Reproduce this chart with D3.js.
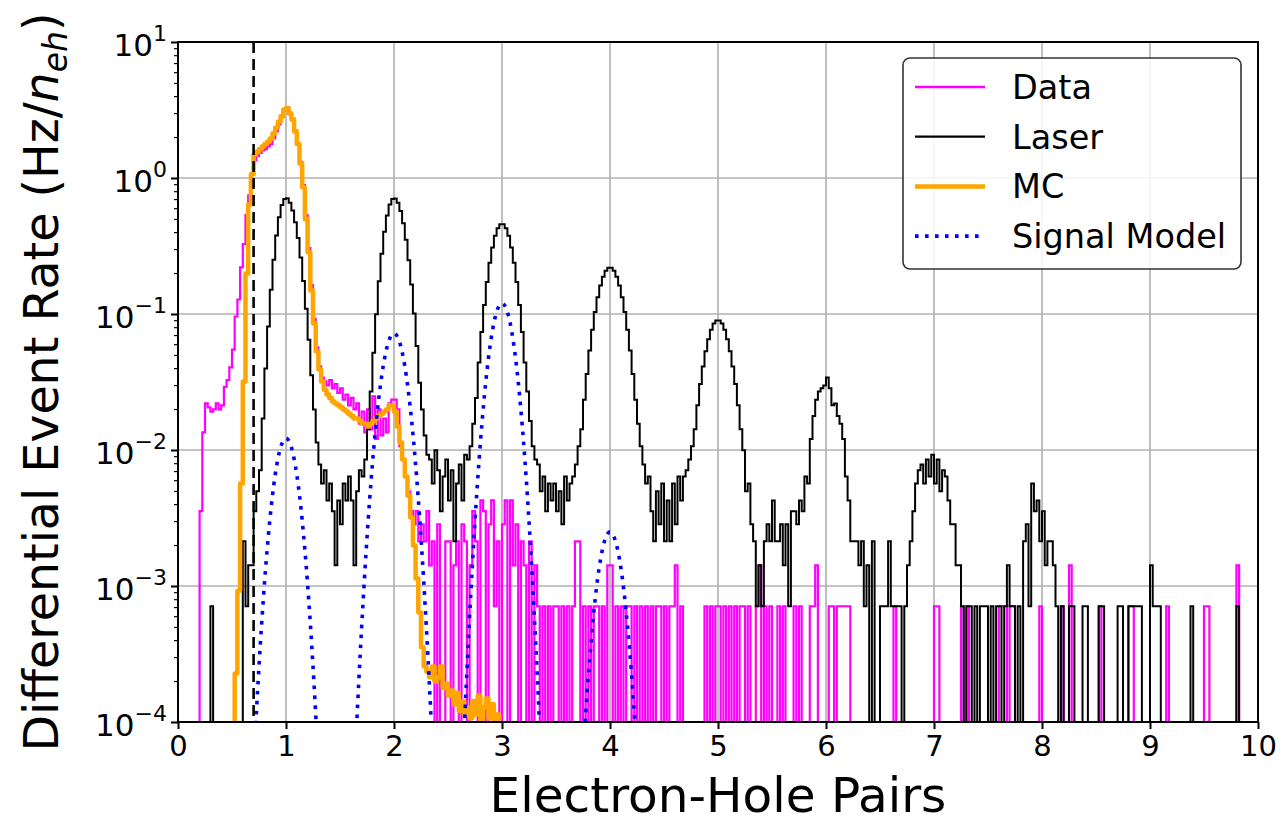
<!DOCTYPE html>
<html>
<head>
<meta charset="utf-8">
<script src="https://cdn.jsdelivr.net/npm/d3@7"></script>
<style>
  html, body { margin: 0; background: #fff; }
  svg { display: block; font-family: 'DejaVu Sans', sans-serif; }
</style>
</head>
<body>
<svg id="chart" width="1288" height="829"></svg>
<script>
// Histogram binning: 0.025 electron-hole pairs per bin, starting at 0
const binWidth = 0.025;
// One event in one bin corresponds to this differential rate (Hz / n_eh)
const hzPerCount = 7.1e-4;

// Measured data, events per bin (bins 0.000 .. 10.000, one row per unit of n_eh)
const dataCounts = [
  0,0,0,0,0,0,0,0,5,19, 31,29,27,28,31,28,30,41,46,57, 77,135,180,310,460,750,1050,1500,1900,2050, 2150,2250,2300,2400,2500,2750,3100,3500,3950,4450,
  4550,4250,3850,3150,2500,1850,1250,750,430,230, 130,80,58,48,45,42,46,40,43,37, 40,33,36,30,34,28,31,22,27,19, 28,20,35,17,28,18,24,19,31,33,
  33,28,15,12,9,7,5,4,5,3, 4,3,5,2,3,0,4,0,0,3, 3,0,2,3,0,4,3,0,2,5, 3,0,6,5,0,4,6,1,3,0,
  4,6,0,6,2,4,0,3,2,0, 3,0,2,1,0,1,0,1,0,1, 1,0,1,0,1,0,1,3,3,0, 1,0,1,0,1,1,0,1,0,2,
  2,0,1,0,1,0,1,1,0,1, 0,1,0,1,0,1,0,1,1,0, 1,0,1,1,2,0,1,0,0,0, 0,0,0,0,0,1,0,1,0,1,
  1,0,1,0,1,0,1,0,1,1, 0,1,0,0,1,2,0,1,0,1, 0,0,1,0,1,0,0,0,1,0, 1,0,0,0,1,1,2,0,0,0,
  0,1,1,0,1,1,1,1,1,0, 0,0,0,0,0,0,0,0,0,0, 0,0,0,0,0,1,0,0,0,0, 0,0,0,0,0,0,0,0,0,0,
  1,1,0,0,0,0,0,0,0,0, 1,0,1,0,0,0,0,0,0,0, 0,0,0,0,1,1,1,0,1,1, 0,0,0,0,0,0,0,0,0,1,
  0,0,0,0,0,0,0,1,0,0, 2,0,0,0,0,0,0,0,0,0, 0,1,0,0,0,0,0,0,0,0, 0,0,1,1,0,0,0,0,0,0,
  0,0,0,0,0,0,1,0,0,0, 0,0,0,0,0,0,0,0,0,0, 1,1,0,0,0,0,0,0,0,0, 0,0,2,0,0,0,0,0,0,0
];

// Laser calibration run, events per bin (same binning)
const laserCounts = [
  0,0,0,0,0,0,0,0,0,0, 0,0,1,0,0,0,0,0,0,0, 0,0,0,0,3,1,2,2,5,7, 10,24,56,114,212,353,533,725,890,987,
  1000,928,813,666,510,367,246,154,91,50, 28,16,11,8,10,6,8,5,2,6, 4,8,6,9,6,2,7,10,9,12, 20,38,73,140,245,390,566,748,900,988,
  995,925,806,654,496,350,232,142,82,44, 28,18,13,12,8,14,10,5,9,12, 6,10,3,8,11,6,13,12,15,22, 34,62,104,164,242,335,434,529,602,643,
  643,602,529,434,335,242,164,104,62,38, 23,15,12,11,7,9,5,8,6,8, 5,7,4,9,6,8,9,11,15,20, 33,51,76,108,146,187,228,265,293,308,
  308,293,265,228,187,146,108,76,51,33, 22,15,11,8,9,5,3,7,4,8, 3,6,3,8,4,9,6,9,10,12, 15,20,30,43,58,75,92,108,120,126,
  126,120,108,92,75,58,43,30,20,14, 7,8,4,3,1,2,1,3,4,3, 6,3,3,4,2,4,1,5,5,4, 6,5,9,8,17,25,33,38,40,42,
  48,40,30,31,25,22,17,9,6,3, 3,3,2,3,1,2,0,3,0,0, 1,1,1,3,1,1,1,1,0,1, 2,3,5,8,10,11,8,12,9,13,
  8,12,7,10,9,6,4,4,2,2, 1,0,1,1,0,1,0,1,1,1, 0,1,0,1,1,0,1,2,1,1, 0,1,0,3,4,1,8,5,6,3,
  5,2,3,3,2,1,0,1,0,0, 1,1,0,0,0,1,1,0,0,0, 0,1,1,0,0,0,0,0,1,1, 0,0,1,1,1,1,1,0,0,0,
  2,1,1,1,0,0,0,0,0,0, 0,0,0,0,0,1,0,0,0,0, 0,0,0,0,0,0,0,0,0,0, 0,0,1,0,0,0,0,0,0,0
];

// Monte Carlo expectation, events per bin, first bin starts at mcStart
const mcStart = 0.525;
const mcCounts = [
  0.32,1.3,8,45,280,900,1500,2100,2200,2300,2400,2500,2600,2750,3000,3300,3650,4000,4500,
  4600,4200,3800,3100,2500,1800,1200,700,400,210, 120,75,55,45,39,36,34,32,31,30, 29,28,27,26,25,24,24,23,22,22, 21,22,23,24,25,26,27,28,30,30,
  27,21,16,12,9,6.5,4.5,2.8,1.6,0.9, 0.5,0.36,0.33,0.3,0.36,0.28,0.3,0.36,0.25,0.27, 0.22,0.24,0.19,0.23,0.17,0.2,0.16,0.18,0.15,0.2, 0.16,0.22,0.14,0.18,0.21,0.15,0.19,0.13,0.16,0.12,
  0.11,0.12,0.11
];

// Signal model curve (Hz / n_eh)
const signalX = [
  0.60,0.65,0.70,0.75,0.80,0.85,0.90,0.95,1.00,1.05,1.10,1.15,1.20,1.25,1.30,1.35,1.40,1.45,1.50,1.55,
  1.60,1.65,1.70,1.75,1.80,1.85,1.90,1.95,2.00,2.05,2.10,2.15,2.20,2.25,2.30,2.35,2.40,2.45,2.50,2.55,
  2.60,2.65,2.70,2.75,2.80,2.85,2.90,2.95,3.00,3.05,3.10,3.15,3.20,3.25,3.30,3.35,3.40,3.45,3.50,3.55,
  3.60,3.65,3.70,3.75,3.80,3.85,3.90,3.95,4.00,4.05,4.10,4.15,4.20,4.25,4.30,4.35,4.40
];
const signalRate = [
  6e-7,6.4e-6,4.7e-5,2.57e-4,1.03e-3,3.04e-3,6.58e-3,1.046e-2,1.22e-2,1.046e-2,6.58e-3,3.04e-3,1.03e-3,2.57e-4,4.7e-5,6.4e-6,6e-7,5e-8,7e-8,1e-6,
  1e-5,8.1e-5,4.9e-4,2.26e-3,7.85e-3,2.07e-2,4.14e-2,6.27e-2,7.2e-2,6.27e-2,4.14e-2,2.07e-2,7.85e-3,2.26e-3,4.9e-4,8.1e-5,1e-5,1e-6,1.2e-7,7.7e-7,
  9.4e-6,8.6e-5,5.9e-4,3.0e-3,1.13e-2,3.18e-2,6.65e-2,1.035e-1,1.2e-1,1.035e-1,6.65e-2,3.18e-2,1.13e-2,3.0e-3,5.9e-4,8.6e-5,9.4e-6,7.7e-7,4.7e-8,1.4e-8,
  1.6e-7,1.5e-6,1.1e-5,5.8e-5,2.2e-4,6.4e-4,1.37e-3,2.15e-3,2.5e-3,2.15e-3,1.37e-3,6.4e-4,2.2e-4,5.8e-5,1.1e-5,1.5e-6,1.6e-7
];

// Analysis threshold (dashed vertical line)
const thresholdX = 0.7;

// Axis ticks and labels
const xTicks = [0,1,2,3,4,5,6,7,8,9,10];
const yDecades = [-4,-3,-2,-1,0,1];
const legendLabels = ["Data","Laser","MC","Signal Model"];

const colors = { data: "#ff00ff", laser: "#000000", mc: "#ffa500", signal: "#0000ff" };

const svg = d3.select("#chart");
const plot = { left: 178, right: 1258, top: 42, bottom: 722 };

const x = d3.scaleLinear().domain([0, 10]).range([plot.left, plot.right]);
const y = d3.scaleLog().domain([1e-4, 10]).range([plot.bottom, plot.top]);

svg.append("defs").append("clipPath").attr("id", "plotClip")
  .append("rect")
  .attr("x", plot.left).attr("y", plot.top)
  .attr("width", plot.right - plot.left).attr("height", plot.bottom - plot.top);

// Grid
const grid = svg.append("g").attr("stroke", "#b0b0b0").attr("stroke-width", 1.6);
grid.selectAll("line.gx").data(xTicks.slice(1, -1)).join("line")
  .attr("x1", d => x(d)).attr("x2", d => x(d))
  .attr("y1", plot.top).attr("y2", plot.bottom);
grid.selectAll("line.gy").data(yDecades.slice(1, -1)).join("line")
  .attr("x1", plot.left).attr("x2", plot.right)
  .attr("y1", d => y(Math.pow(10, d))).attr("y2", d => y(Math.pow(10, d)));

// Step outline of a histogram; empty bins drop below the frame
function stepPoints(counts, start) {
  const below = plot.bottom + 60;
  const level = c => c > 0 ? y(c * hzPerCount) : below;
  const pts = [[x(start), below]];
  counts.forEach((c, i) => {
    const yy = level(c);
    pts.push([x(start + i * binWidth), yy], [x(start + (i + 1) * binWidth), yy]);
  });
  pts.push([x(start + counts.length * binWidth), below]);
  return pts;
}

const layer = svg.append("g").attr("clip-path", "url(#plotClip)");
const line = d3.line();

layer.append("path").attr("d", line(stepPoints(dataCounts, 0)))
  .attr("fill", "none").attr("stroke", colors.data).attr("stroke-width", 2.2).attr("stroke-linejoin", "miter");
layer.append("path").attr("d", line(stepPoints(laserCounts, 0)))
  .attr("fill", "none").attr("stroke", colors.laser).attr("stroke-width", 2).attr("stroke-linejoin", "miter");
layer.append("path").attr("d", line(stepPoints(mcCounts, mcStart)))
  .attr("fill", "none").attr("stroke", colors.mc).attr("stroke-width", 4.5).attr("stroke-linejoin", "round");

const signalLine = d3.line()
  .x((d, i) => x(signalX[i]))
  .y(d => y(d))
  .curve(d3.curveMonotoneX);
layer.append("path").attr("d", signalLine(signalRate))
  .attr("fill", "none").attr("stroke", colors.signal).attr("stroke-width", 3.6)
  .attr("stroke-dasharray", "3.6 6.4");

layer.append("line")
  .attr("x1", x(thresholdX)).attr("x2", x(thresholdX))
  .attr("y1", plot.top).attr("y2", plot.bottom)
  .attr("stroke", "#000").attr("stroke-width", 2.6).attr("stroke-dasharray", "11 6");

// Axes
const xAxis = d3.axisBottom(x).tickValues(xTicks).tickSize(7).tickPadding(6).tickFormat(d3.format("d"));
const gx = svg.append("g").attr("transform", `translate(0,${plot.bottom})`).call(xAxis);
gx.select(".domain").remove();
gx.selectAll(".tick line").attr("stroke", "#000").attr("stroke-width", 2);
gx.selectAll(".tick text").attr("font-size", 29).attr("font-family", "'DejaVu Sans', sans-serif").attr("fill", "#000");

const minorVals = [];
yDecades.slice(0, -1).forEach(k => { for (let m = 2; m <= 9; m++) minorVals.push(m * Math.pow(10, k)); });
const gyMinor = svg.append("g").attr("transform", `translate(${plot.left},0)`)
  .call(d3.axisLeft(y).tickValues(minorVals).tickSize(4).tickFormat(""));
gyMinor.select(".domain").remove();
gyMinor.selectAll(".tick line").attr("stroke", "#000").attr("stroke-width", 1.2);

const gy = svg.append("g").attr("transform", `translate(${plot.left},0)`)
  .call(d3.axisLeft(y).tickValues(yDecades.map(k => Math.pow(10, k))).tickSize(7).tickFormat(""));
gy.select(".domain").remove();
gy.selectAll(".tick line").attr("stroke", "#000").attr("stroke-width", 2);

const yLabels = svg.append("g").attr("font-size", 31).attr("fill", "#000").attr("text-anchor", "end");
yDecades.forEach(k => {
  const t = yLabels.append("text").attr("x", plot.left - 11).attr("y", y(Math.pow(10, k)) + 14);
  t.append("tspan").text("10");
  t.append("tspan").attr("dy", -15).attr("font-size", 22).text(k < 0 ? "\u2212" + (-k) : String(k));
});

// Frame
svg.append("rect")
  .attr("x", plot.left).attr("y", plot.top)
  .attr("width", plot.right - plot.left).attr("height", plot.bottom - plot.top)
  .attr("fill", "none").attr("stroke", "#000").attr("stroke-width", 2);

// Axis titles
svg.append("text")
  .attr("x", (plot.left + plot.right) / 2).attr("y", 812)
  .attr("text-anchor", "middle").attr("font-size", 48.5).attr("fill", "#000")
  .text("Electron-Hole Pairs");

const yt = svg.append("text")
  .attr("transform", `translate(58,382) rotate(-90)`)
  .attr("text-anchor", "middle").attr("font-size", 47.5).attr("fill", "#000");
yt.append("tspan").text("Differential Event Rate (Hz/");
yt.append("tspan").attr("font-style", "italic").text("n");
yt.append("tspan").attr("font-style", "italic").attr("font-size", 33).attr("dy", 9).text("eh");
yt.append("tspan").attr("dy", -9).text(")");

// Legend
const lg = svg.append("g");
lg.append("rect")
  .attr("x", 903).attr("y", 58).attr("width", 338).attr("height", 211).attr("rx", 7)
  .attr("fill", "#fff").attr("fill-opacity", 0.85).attr("stroke", "#333").attr("stroke-width", 1.6);
const legendStyles = [
  { color: colors.data, width: 2.6, dash: null },
  { color: colors.laser, width: 2.2, dash: null },
  { color: colors.mc, width: 4.5, dash: null },
  { color: colors.signal, width: 3.6, dash: "3.6 6.4" }
];
legendLabels.forEach((name, i) => {
  const yy = 87 + i * 49.7;
  const st = legendStyles[i];
  lg.append("line").attr("x1", 915).attr("x2", 985).attr("y1", yy).attr("y2", yy)
    .attr("stroke", st.color).attr("stroke-width", st.width)
    .attr("stroke-dasharray", st.dash);
  lg.append("text").attr("x", 1012).attr("y", yy + 12).attr("font-size", 33.5).attr("fill", "#000").text(name);
});
</script>
</body>
</html>
